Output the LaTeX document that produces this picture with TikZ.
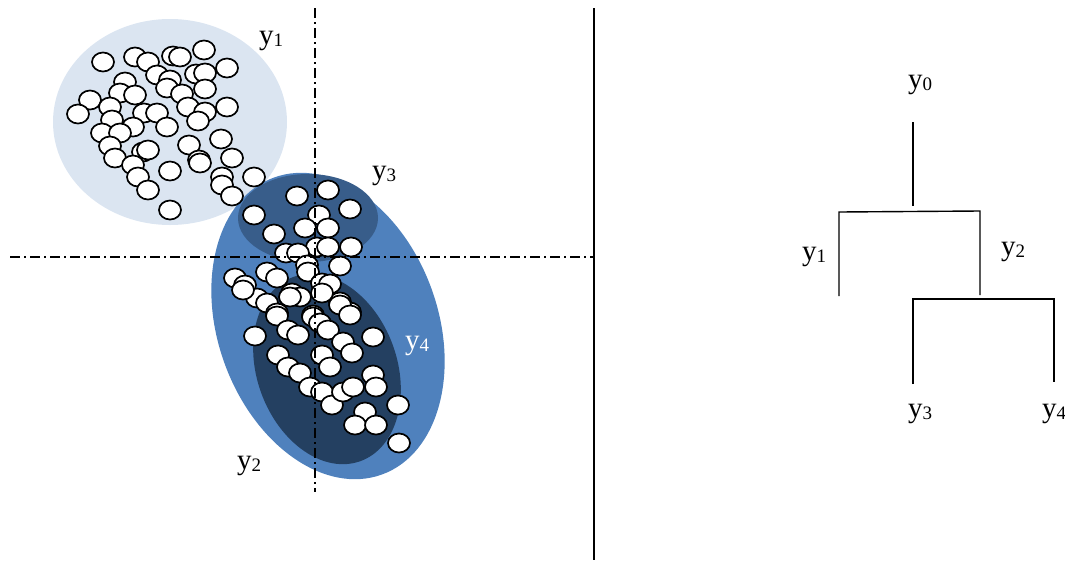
\documentclass[tikz,border=0pt]{standalone}
\usepackage{fontspec}
\setmainfont{Liberation Serif}
\definecolor{lightc}{HTML}{DBE5F1}
\definecolor{midc}{HTML}{4F81BD}
\definecolor{darkc}{HTML}{385D8A}
\definecolor{navyc}{HTML}{244061}
\newcommand{\ylab}[1]{y\raisebox{-2pt}{\fontsize{19}{19}\selectfont #1}}
\tikzset{
  pt/.style={draw=black, fill=white, line width=1.7pt},
  axisline/.style={line width=1.3pt, dash pattern=on 10pt off 4pt on 2pt off 4pt},
  treeline/.style={line width=1.4pt},
  lab/.style={font=\fontsize{29}{29}\selectfont, inner sep=0pt},
}
\begin{document}
\begin{tikzpicture}[x=1pt,y=-1pt]
\useasboundingbox (0,0) rectangle (1065,560);
% cluster regions
\fill[lightc] (170,122) ellipse (117pt and 103pt);
\fill[midc, rotate around={20:(328,326)}] (328,326) ellipse (110pt and 158pt);
\fill[darkc] (308,218) ellipse (70pt and 44pt);
\fill[navyc, rotate around={20:(327,369)}] (327,369) ellipse (70pt and 98pt);
% points
\foreach \x/\y in {
103/62, 135/57, 148/62, 173/56, 180/57, 204/50, 227/68, 125/82, 157/75, 170/80,
196/74, 205/73, 167/88, 182/94, 205/89, 120/93, 135/95, 90/100, 78/114, 110/107,
112/120, 144/113, 157/113, 188/107, 205/112, 227/107, 198/121, 133/127, 167/127, 102/133,
120/133, 110/146, 115/158, 143/152, 148/150, 189/145, 199/160, 200/163, 221/139, 232/158,
133/165, 138/177, 148/190, 170/171, 222/177, 222/185, 232/196, 254/177, 170/210,
297/196, 328/190, 350/209, 254/215, 319/215, 305/228, 328/228, 274/234, 317/247, 328/247,
351/247, 286/253, 298/253, 340/266, 307/265, 308/272, 267/272, 277/278, 235/278, 245/285,
322/283, 330/284, 292/293, 300/297, 290/297, 257/298, 267/303, 340/302, 350/312, 313/315,
277/313, 243/290, 322/293, 277/316, 340/305, 350/315, 313/317, 320/323, 255/336, 288/330,
298/335, 328/330, 343/342, 352/353, 373/337, 278/355, 288/367, 300/373, 322/355, 330/367,
310/387, 322/392, 332/405, 343/392, 353/387, 373/375, 376/387, 365/412, 355/425, 376/425,
398/405, 399/443}
  \draw[pt] (\x,\y) ellipse (11pt and 9.5pt);
% axes
\coordinate (vt) at (315,8);
\coordinate (vb) at (315,492);
\coordinate (hl) at (10,257);
\coordinate (hr) at (593,257);
\draw[axisline] (vt) -- (vb);
\draw[axisline] (hl) -- (hr);
% divider
\coordinate (dt) at (594,8);
\coordinate (db) at (594,560);
\draw[line width=1.5pt] (dt) -- (db);
% left labels
\node[lab] (l1) at (271,41) {\ylab{1}};
\node[lab] (l3) at (384,176) {\ylab{3}};
\node[lab, text=white] (l4) at (417,346) {\ylab{4}};
\node[lab] (l2) at (249,466) {\ylab{2}};
% tree
\node[lab] (t0) at (920,85) {\ylab{0}};
\node[lab] (t1) at (814,257) {\ylab{1}};
\node[lab] (t2) at (1013,252) {\ylab{2}};
\node[lab] (t3) at (920,414) {\ylab{3}};
\node[lab] (t4) at (1054,414) {\ylab{4}};
\coordinate (a0) at (913,122);
\coordinate (a1) at (913,206);
\coordinate (bl) at (839,212);
\coordinate (br) at (980,211);
\coordinate (blb) at (839,296);
\coordinate (brb) at (980,295);
\coordinate (cl) at (913,299);
\coordinate (cr) at (1054,299);
\coordinate (clb) at (913,384);
\coordinate (crb) at (1054,382);
\draw[treeline] (a0) -- (a1);
\draw[treeline] (blb) -- (bl) -- (br) -- (brb);
\draw[treeline] (clb) -- (cl) -- (cr) -- (crb);
\end{tikzpicture}
\end{document}
